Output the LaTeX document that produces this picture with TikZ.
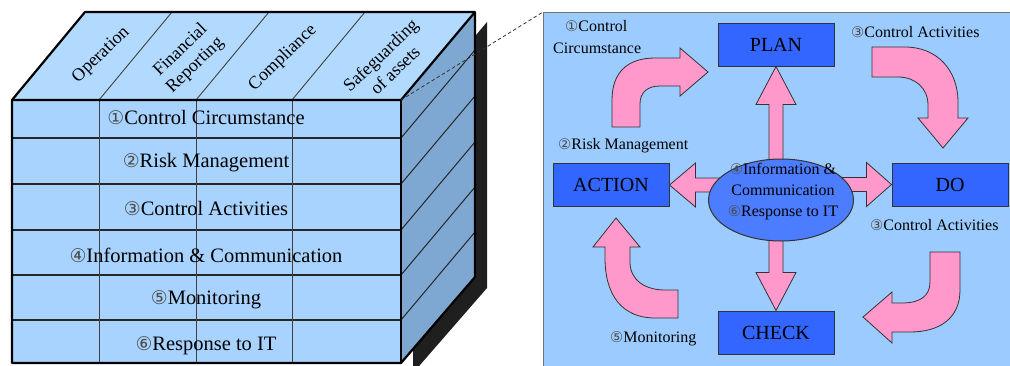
\documentclass[tikz,border=0pt]{standalone}
\usepackage{fontspec}
\setmainfont{Liberation Serif}
\newfontfamily\dejavucircled{DejaVu Sans}
\usetikzlibrary{shapes.geometric,calc}
\pgfdeclarelayer{back}
\pgfdeclarelayer{mid}
\pgfsetlayers{back,mid,main}

\newcommand\circnum[1]{{\dejavucircled\color{black!70}\scalebox{0.92}{#1}}}
% text is set at 16pt and enlarged where the labels are bigger
\newcommand\rowlabel[1]{\scalebox{1.28}{#1}}
\newcommand\phaselabel[1]{\scalebox{1.25}{#1}}
\newcommand\toplabel[1]{\scalebox{1.125}{\begin{tabular}{@{}c@{}}#1\end{tabular}}}

\definecolor{frontblue}{HTML}{A8D3FF}
\definecolor{topblue}{HTML}{B2DAFF}
\definecolor{sideblue}{HTML}{7EA8D2}
\definecolor{panelblue}{HTML}{9CCCFF}
\definecolor{boxblue}{HTML}{3366FF}
\definecolor{ellblue}{HTML}{4D7DFF}
\definecolor{arrowpink}{HTML}{FF99CC}

\tikzset{
  edge/.style={line width=2.2pt, line join=round},
  rowline/.style={line width=1.5pt, draw=black!85},
  colline/.style={line width=0.9pt, draw=black!75},
  sideline/.style={line width=1pt, draw=black!85},
  rowtext/.style={font=\fontsize{16}{19}\selectfont, inner sep=0},
  toptext/.style={font=\fontsize{16}{18.6}\selectfont, rotate=44, inner sep=0},
  phase/.style={draw=black!80, line width=1pt, fill=boxblue, minimum width=116pt,
    minimum height=43pt, font=\fontsize{16}{19}\selectfont, inner sep=0},
  note/.style={font=\fontsize{16}{18}\selectfont, inner sep=0, anchor=west},
  pinkarrow/.style={fill=arrowpink, draw=black!80, line width=0.8pt, line join=miter},
}

\begin{document}
\begin{tikzpicture}[x=1pt,y=-1pt]
\useasboundingbox (0,0) rectangle (1010,365);

% ---------- the control cube ----------
\begin{pgfonlayer}{back}
  % drop shadow
  \fill[black!88] (413,110) -- (487,22) -- (487,288) -- (413,373) -- cycle;
  % faces
  \fill[sideblue] (401,100) -- (475,12) -- (475,277) -- (401,363) -- cycle;
  \fill[topblue] (12,100) -- (85,12) -- (475,12) -- (401,100) -- cycle;
  \fill[frontblue] (12,100) rectangle (401,363);
  % grid of components and objectives
  \foreach \y in {138,184,230,275,320} {
    \draw[rowline] (12,\y) -- (401,\y);
    \draw[sideline] (401,\y) -- (475,\y-88);
  }
  \foreach \x in {99,196,292} {
    \draw[colline] (\x,100) -- (\x,363);
    \draw[colline] (\x,100) -- (\x+73,12);
  }
  % outline
  \draw[edge] (12,363) -- (12,100) -- (85,12) -- (475,12) -- (475,277) -- (401,363) -- cycle;
  \draw[edge] (12,100) -- (401,100) -- (475,12);
  \draw[edge] (401,100) -- (401,363);
  \coordinate (fr) at (401,100);

  % ---------- PDCA panel ----------
  \node[draw=black!55, line width=0.9pt, fill=panelblue, minimum width=480pt,
        minimum height=370pt, anchor=north west, inner sep=0] (panel) at (543,12) {};
  \draw[black!80, line width=0.8pt, dash pattern=on 3.5pt off 2.5pt] (fr) -- (panel.north west);
\end{pgfonlayer}

% objectives on the top face
\node[toptext] (t1) at (101,55) {\toplabel{Operation}};
\node[toptext] (t2) at (188,58) {\toplabel{Financial\\Reporting}};
\node[toptext] (t3) at (283,58) {\toplabel{Compliance}};
\node[toptext] (t4) at (389,64) {\toplabel{Safeguarding\\of assets}};

% components on the front face
\node[rowtext] (r1) at (206,117) {\rowlabel{\circnum{①}Control Circumstance}};
\node[rowtext] (r2) at (206,163) {\rowlabel{\circnum{②}Risk Management}};
\node[rowtext] (r3) at (206,208) {\rowlabel{\circnum{③}Control Activities}};
\node[rowtext] (r4) at (206,255) {\rowlabel{\circnum{④}Information \& Communication}};
\node[rowtext] (r5) at (206,300) {\rowlabel{\circnum{⑤}Monitoring}};
\node[rowtext] (r6) at (206,346) {\rowlabel{\circnum{⑥}Response to IT}};

% PDCA boxes and the central ellipse
\node[phase] (plan) at (776,44.5) {\phaselabel{PLAN}};
\node[phase] (do) at (950,184.5) {\phaselabel{DO}};
\node[phase] (action) at (611,185) {\phaselabel{ACTION}};
\node[phase] (check) at (776,332.5) {\phaselabel{CHECK}};
\node[ellipse, draw=black!80, line width=1pt, fill=ellblue, minimum width=145pt,
      minimum height=82pt, inner sep=0] (ell) at (781,200) {};
\node[align=center, font=\fontsize{16}{21}\selectfont, inner sep=0] (ellt) at (783,192)
  {\circnum{④}Information \&\\Communication\\\circnum{⑥}Response to IT};

% block arrows
\begin{pgfonlayer}{mid}
  % centre to PLAN
  \draw[pinkarrow] (plan.south) -- ($(plan.south)+(20,38)$) -- ($(plan.south)+(7,38)$)
    -- ($(plan.south |- ell.north)+(7,10)$) -- ($(plan.south |- ell.north)+(-7,10)$)
    -- ($(plan.south)+(-7,38)$) -- ($(plan.south)+(-20,38)$) -- cycle;
  % centre to CHECK
  \draw[pinkarrow] (check.north) -- ($(check.north)+(20,-38)$) -- ($(check.north)+(7,-38)$)
    -- ($(check.north |- ell.south)+(7,-10)$) -- ($(check.north |- ell.south)+(-7,-10)$)
    -- ($(check.north)+(-7,-38)$) -- ($(check.north)+(-20,-38)$) -- cycle;
  % centre to ACTION
  \draw[pinkarrow] (action.east) -- ($(action.east)+(26,-22)$) -- ($(action.east)+(26,-7)$)
    -- ($(action.east -| ell.west)+(22,-7)$) -- ($(action.east -| ell.west)+(22,7)$)
    -- ($(action.east)+(26,7)$) -- ($(action.east)+(26,22)$) -- cycle;
  % centre to DO
  \draw[pinkarrow] (do.west) -- ($(do.west)+(-25,-22)$) -- ($(do.west)+(-25,-7)$)
    -- ($(do.west -| ell.east)+(-22,-7)$) -- ($(do.west -| ell.east)+(-22,7)$)
    -- ($(do.west)+(-25,7)$) -- ($(do.west)+(-25,22)$) -- cycle;

  % bent arrows of the cycle
  \draw[pinkarrow] (612,127) -- (612,100) .. controls (612,72) and (628,58) .. (655,58)
    -- (680,58) -- (680,48) -- (708,72) -- (680,96) -- (680,86) -- (660,86)
    .. controls (648,86) and (640,92) .. (640,104) -- (640,127) -- cycle;
  \draw[pinkarrow] (872,47) -- (905,47) .. controls (937,47) and (958,70) .. (958,102)
    -- (958,118) -- (968,118) -- (943,148) -- (918,118) -- (928,118) -- (928,105)
    .. controls (928,88) and (915,77) .. (898,77) -- (872,77) -- cycle;
  \draw[pinkarrow] (930,252) -- (960,252) -- (960,290) .. controls (960,318) and (940,332) .. (910,332)
    -- (892,332) -- (892,343) -- (863,317) -- (892,292) -- (892,303) -- (902,303)
    .. controls (920,303) and (930,296) .. (930,282) -- cycle;
  \draw[pinkarrow] (678,290) -- (665,290) .. controls (645,290) and (630,280) .. (630,262)
    -- (630,247) -- (640,247) -- (616,218) -- (593,247) -- (605,247) -- (605,258)
    .. controls (605,295) and (622,318) .. (655,318) -- (678,318) -- cycle;
\end{pgfonlayer}

% component labels in the panel
\node[note] (n1a) at (565,26) {\circnum{①}Control};
\node[note] (n1b) at (553,48) {Circumstance};
\node[note] (n3a) at (851,32) {\circnum{③}Control Activities};
\node[note] (n2) at (558,146) {\circnum{②}Risk Management};
\node[note] (n3b) at (870,225) {\circnum{③}Control Activities};
\node[note] (n5) at (610,339) {\circnum{⑤}Monitoring};
\end{tikzpicture}
\end{document}
